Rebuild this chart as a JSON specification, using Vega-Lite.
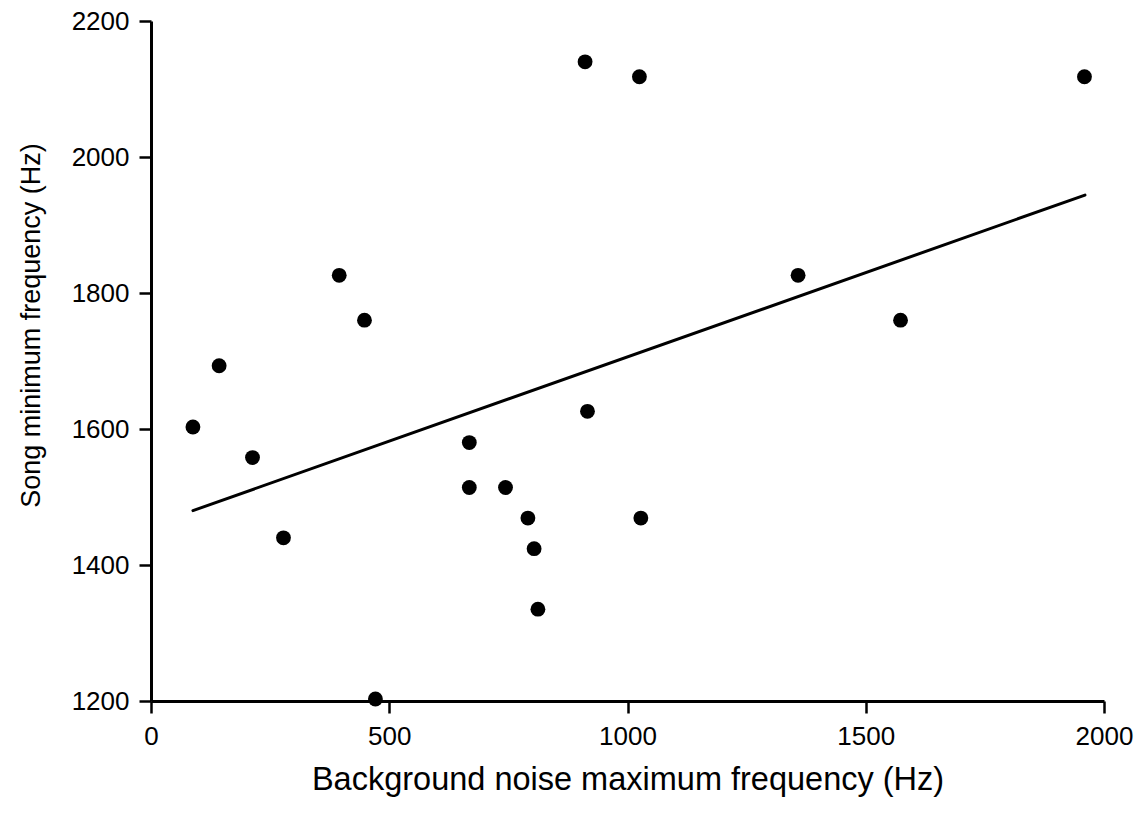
{
  "$schema": "https://vega.github.io/schema/vega-lite/v6.json",
  "width": 953,
  "height": 680,
  "autosize": "none",
  "padding": {"left": 151, "top": 21, "right": 41, "bottom": 118},
  "background": "white",
  "config": {
    "view": {"stroke": null},
    "axis": {
      "grid": false,
      "domainColor": "black",
      "domainWidth": 3,
      "tickColor": "black",
      "tickWidth": 2.5,
      "tickSize": 12,
      "labelFont": "Liberation Sans",
      "labelFontSize": 26,
      "labelColor": "black",
      "labelFlush": false,
      "labelOverlap": false,
      "titleFont": "Liberation Sans",
      "titleFontWeight": "normal",
      "titleColor": "black"
    }
  },
  "datasets": {
    "points": [
      {"noise": 88, "song": 1603},
      {"noise": 143, "song": 1693},
      {"noise": 213, "song": 1558},
      {"noise": 278, "song": 1440},
      {"noise": 395, "song": 1826},
      {"noise": 448, "song": 1760},
      {"noise": 471, "song": 1203},
      {"noise": 668, "song": 1580},
      {"noise": 668, "song": 1514},
      {"noise": 744, "song": 1514},
      {"noise": 791, "song": 1469},
      {"noise": 804, "song": 1424},
      {"noise": 812, "song": 1335},
      {"noise": 916, "song": 1626},
      {"noise": 911, "song": 2140},
      {"noise": 1025, "song": 2118},
      {"noise": 1028, "song": 1469},
      {"noise": 1358, "song": 1826},
      {"noise": 1573, "song": 1760},
      {"noise": 1959, "song": 2118}
    ],
    "fit": [
      {"noise": 88, "song": 1480},
      {"noise": 1960, "song": 1944}
    ]
  },
  "layer": [
    {
      "data": {"name": "fit"},
      "mark": {"type": "line", "color": "black", "strokeWidth": 3, "strokeCap": "round"},
      "encoding": {
        "x": {"field": "noise", "type": "quantitative"},
        "y": {"field": "song", "type": "quantitative"}
      }
    },
    {
      "data": {"name": "points"},
      "mark": {"type": "circle", "size": 220, "color": "black", "opacity": 1, "clip": false},
      "encoding": {
        "x": {
          "field": "noise",
          "type": "quantitative",
          "scale": {"domain": [0, 2000], "nice": false, "zero": false},
          "axis": {
            "title": "Background noise maximum frequency (Hz)",
            "values": [0, 500, 1000, 1500, 2000],
            "format": "d",
            "labelPadding": 10,
            "titleFontSize": 32.5,
            "titlePadding": 14
          }
        },
        "y": {
          "field": "song",
          "type": "quantitative",
          "scale": {"domain": [1200, 2200], "nice": false, "zero": false},
          "axis": {
            "title": "Song minimum frequency (Hz)",
            "values": [1200, 1400, 1600, 1800, 2000, 2200],
            "format": "d",
            "labelPadding": 10,
            "titleFontSize": 27,
            "titleX": -106,
            "titleY": 304
          }
        }
      }
    }
  ]
}
